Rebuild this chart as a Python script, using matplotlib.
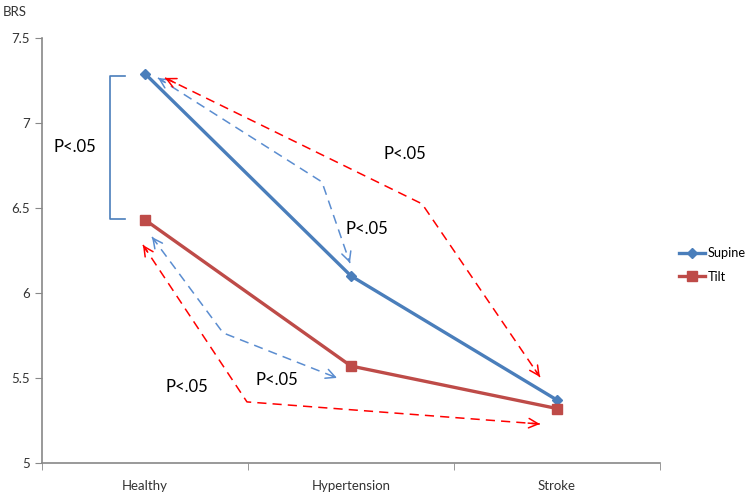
import numpy as np
import matplotlib.pyplot as plt

plt.rcParams['font.family'] = ['Lato', 'DejaVu Sans']

categories = ['Healthy', 'Hypertension', 'Stroke']
supine = [7.29, 6.10, 5.37]
tilt = [6.43, 5.57, 5.32]

blue = '#4A7EBB'
red = '#BE4B48'

fig = plt.figure(figsize=(7.5, 4.93), dpi=100)
ax = fig.add_axes([0.056, 0.061, 0.824, 0.862])

x = np.arange(len(categories))
ax.plot(x, supine, color=blue, lw=2.4, marker='D', ms=5.5, label='Supine', zorder=4)
ax.plot(x, tilt, color=red, lw=2.4, marker='s', ms=7, label='Tilt', zorder=4)

ax.set_xlim(-0.5, 2.5)
ax.set_ylim(5, 7.5)
ax.set_yticks([5, 5.5, 6, 6.5, 7, 7.5])
ax.set_yticklabels(['5', '5.5', '6', '6.5', '7', '7.5'])
ax.set_xticks(x)
ax.set_xticklabels(categories)
ax.set_xticks([-0.5, 0.5, 1.5, 2.5], minor=True)
ax.tick_params(axis='x', which='major', length=0, pad=12, labelsize=9.5, colors='#333333')
ax.tick_params(axis='x', which='minor', length=5, color='#888888')
ax.tick_params(axis='y', length=5, color='#888888', labelsize=9.5, labelcolor='#333333')
for s in ['top', 'right']:
    ax.spines[s].set_visible(False)
for s in ['left', 'bottom']:
    ax.spines[s].set_color('#888888')
    ax.spines[s].set_linewidth(1.2)

fig.text(0.003, 0.988, 'BRS', fontsize=9.5, color='#333333', va='top', ha='left')

# bracket between supine and tilt for healthy
ax.plot([-0.097, -0.17, -0.17, -0.097], [7.276, 7.276, 6.435, 6.435], color=blue, lw=1.2)


def dashed_path(pts, color, lw):
    pts = np.array(pts)
    ax.plot(pts[:, 0], pts[:, 1], color=color, lw=lw, ls=(0, (6, 4)), zorder=3)
    for end, prev in [(pts[0], pts[1]), (pts[-1], pts[-2])]:
        d = prev - end
        back = end + d * 0.04
        ax.annotate('', xy=end, xytext=back,
                    arrowprops=dict(arrowstyle='->', color=color, lw=lw,
                                    shrinkA=0, shrinkB=0, mutation_scale=17))


dashed_path([(0.063, 7.265), (0.859, 6.653), (0.995, 6.176)], '#5B8DD0', 1.1)
dashed_path([(0.097, 7.265), (1.345, 6.524), (1.917, 5.506)], '#FF0000', 1.1)
dashed_path([(0.034, 6.329), (0.379, 5.765), (0.932, 5.50)], '#5B8DD0', 1.1)
dashed_path([(-0.010, 6.282), (0.495, 5.359), (1.917, 5.229)], '#FF0000', 1.1)

txt = dict(fontsize=12, ha='center', va='center', color='black')
ax.text(-0.34, 6.86, 'P<.05', **txt)
ax.text(1.262, 6.82, 'P<.05', **txt)
ax.text(1.078, 6.376, 'P<.05', **txt)
ax.text(0.641, 5.488, 'P<.05', **txt)
ax.text(0.204, 5.447, 'P<.05', **txt)

ax.legend(loc='center left', bbox_to_anchor=(1.03, 0.466), frameon=False,
          borderaxespad=0, borderpad=0, fontsize=9.2, handlelength=2.1,
          handletextpad=0.15, labelspacing=0.9)

fig.savefig('out.png', dpi=100)
